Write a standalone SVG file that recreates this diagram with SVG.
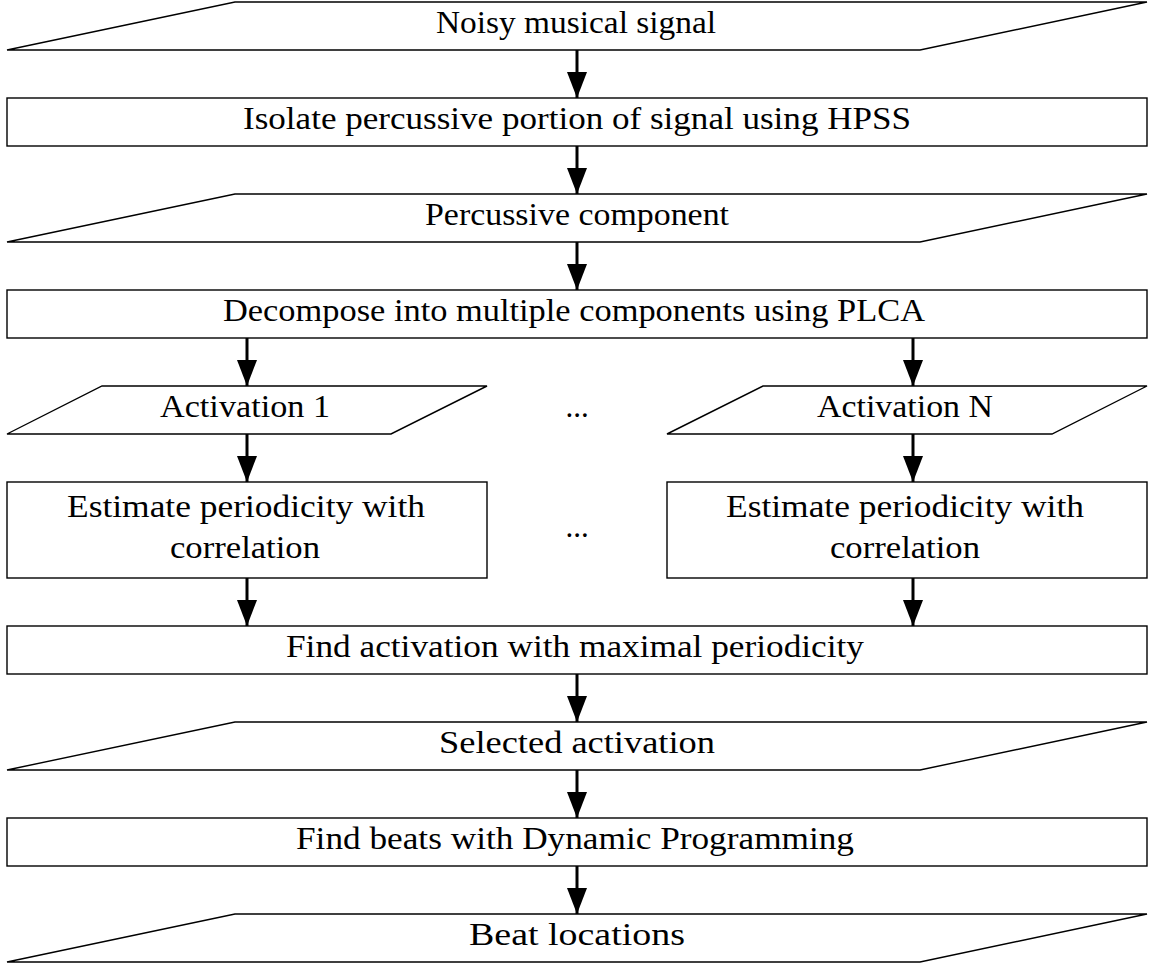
<svg xmlns="http://www.w3.org/2000/svg" width="1155" height="966" viewBox="0 0 1155 966">
<style>
.s{fill:#fff;stroke:#000;stroke-width:1.4}
.t{font-family:"Liberation Serif","DejaVu Serif",serif;font-size:31px;fill:#000;text-anchor:middle}
.c{stroke:#000;stroke-width:3;fill:none;marker-end:url(#ah)}
</style>
<defs>
<marker id="ah" markerUnits="userSpaceOnUse" viewBox="0 0 26 20" refX="26" refY="10" markerWidth="26" markerHeight="20" orient="auto">
<path d="M0,0 L26,10 L0,20 Z" fill="#000"/>
</marker>
</defs>
<rect width="1155" height="966" fill="#fff"/>
<g id="connectors">
<line class="c" x1="577" y1="50" x2="577" y2="98"/>
<line class="c" x1="577" y1="146" x2="577" y2="194"/>
<line class="c" x1="577" y1="242" x2="577" y2="290"/>
<line class="c" x1="247" y1="338" x2="247" y2="386"/>
<line class="c" x1="913" y1="338" x2="913" y2="386"/>
<line class="c" x1="247" y1="434" x2="247" y2="482"/>
<line class="c" x1="913" y1="434" x2="913" y2="482"/>
<line class="c" x1="247" y1="578" x2="247" y2="626"/>
<line class="c" x1="913" y1="578" x2="913" y2="626"/>
<line class="c" x1="577" y1="674" x2="577" y2="722"/>
<line class="c" x1="577" y1="770" x2="577" y2="818"/>
<line class="c" x1="577" y1="866" x2="577" y2="914"/>
</g>
<g id="n1"><polygon class="s" points="235,2 1147,2 920,50 7,50"/><text class="t" x="576" y="33" textLength="280" lengthAdjust="spacingAndGlyphs">Noisy musical signal</text></g>
<g id="n2"><rect class="s" x="7" y="98" width="1140" height="48"/><text class="t" x="577" y="129" textLength="668" lengthAdjust="spacingAndGlyphs">Isolate percussive portion of signal using HPSS</text></g>
<g id="n3"><polygon class="s" points="235,194 1147,194 920,242 7,242"/><text class="t" x="577" y="225" textLength="304" lengthAdjust="spacingAndGlyphs">Percussive component</text></g>
<g id="n4"><rect class="s" x="7" y="290" width="1140" height="48"/><text class="t" x="574" y="321" textLength="702" lengthAdjust="spacingAndGlyphs">Decompose into multiple components using PLCA</text></g>
<g id="n5"><polygon class="s" points="102,386 487,386 391,434 7,434"/><text class="t" x="245" y="417" textLength="170" lengthAdjust="spacingAndGlyphs">Activation 1</text></g>
<g id="n6"><text class="t" x="577" y="417">...</text></g>
<g id="n7"><polygon class="s" points="763,386 1147,386 1052,434 667,434"/><text class="t" x="905" y="417" textLength="176" lengthAdjust="spacingAndGlyphs">Activation N</text></g>
<g id="n8"><rect class="s" x="7" y="482" width="480" height="96"/><text class="t" x="246" y="517" textLength="358" lengthAdjust="spacingAndGlyphs">Estimate periodicity with</text><text class="t" x="245" y="558" textLength="150" lengthAdjust="spacingAndGlyphs">correlation</text></g>
<g id="n9"><text class="t" x="577" y="537">...</text></g>
<g id="n10"><rect class="s" x="667" y="482" width="480" height="96"/><text class="t" x="905" y="517" textLength="358" lengthAdjust="spacingAndGlyphs">Estimate periodicity with</text><text class="t" x="905" y="558" textLength="150" lengthAdjust="spacingAndGlyphs">correlation</text></g>
<g id="n11"><rect class="s" x="7" y="626" width="1140" height="48"/><text class="t" x="575" y="657" textLength="578" lengthAdjust="spacingAndGlyphs">Find activation with maximal periodicity</text></g>
<g id="n12"><polygon class="s" points="235,722 1147,722 920,770 7,770"/><text class="t" x="577" y="753" textLength="276" lengthAdjust="spacingAndGlyphs">Selected activation</text></g>
<g id="n13"><rect class="s" x="7" y="818" width="1140" height="48"/><text class="t" x="575" y="849" textLength="558" lengthAdjust="spacingAndGlyphs">Find beats with Dynamic Programming</text></g>
<g id="n14"><polygon class="s" points="235,914 1147,914 920,962 7,962"/><text class="t" x="577" y="945" textLength="216" lengthAdjust="spacingAndGlyphs">Beat locations</text></g>
</svg>
